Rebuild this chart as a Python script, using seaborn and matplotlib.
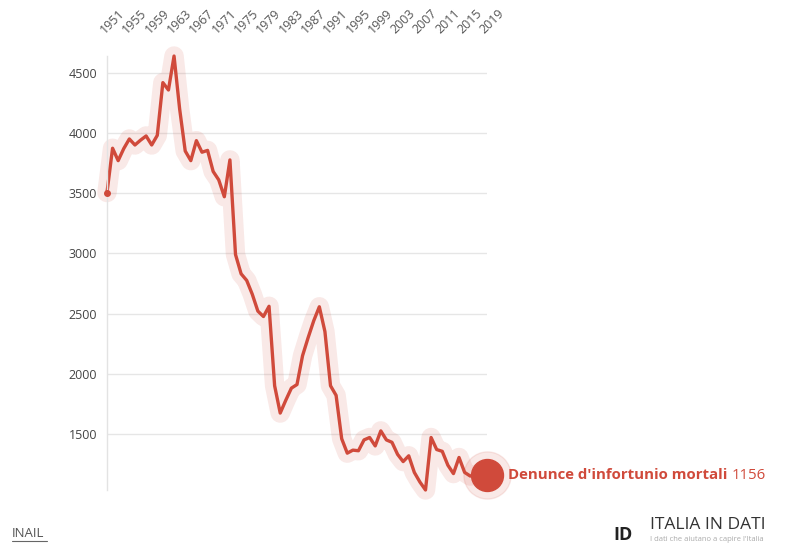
import numpy as np
import pandas as pd
import matplotlib.pyplot as plt
import matplotlib.lines as mlines
import seaborn as sns

# anni e denunce d'infortunio mortali
anni = list(range(1951, 2020))
denunce = [3505, 3873, 3770, 3870, 3950, 3900, 3940, 3975, 3900, 3980,
           4418, 4357, 4639, 4200, 3850, 3770, 3936, 3840, 3855, 3680,
           3610, 3470, 3776, 2990, 2830, 2775, 2660, 2520, 2475, 2560,
           1900, 1673, 1780, 1880, 1910, 2150, 2300, 2440, 2556, 2350,
           1900, 1820, 1460, 1340, 1365, 1360, 1450, 1470, 1400, 1525,
           1450, 1430, 1330, 1270, 1318, 1180, 1100, 1034, 1470, 1370,
           1355, 1240, 1170, 1304, 1180, 1150, 1160, 1180, 1156]
tick_anni = list(range(1951, 2020, 4))
tick_y = [1500, 2000, 2500, 3000, 3500, 4000, 4500]

data = pd.DataFrame({"Anno": anni, "Denunce": denunce})

sns.set_style("white")
plt.rcParams['font.family'] = ['Open Sans', 'DejaVu Sans']

rosso = "#d04a3b"

fig = plt.figure(figsize=(8.02, 5.44), dpi=100)
ax = fig.add_axes([0.1334, 0.0993, 0.4738, 0.7977])

# alone chiaro dietro la linea
sns.lineplot(x="Anno", y="Denunce", data=data, ax=ax, color=rosso, alpha=0.12,
             linewidth=14, solid_capstyle="round", solid_joinstyle="round")
sns.lineplot(x="Anno", y="Denunce", data=data, ax=ax, color=rosso,
             linewidth=2.4, solid_joinstyle="round")
for l in ax.lines:
    l.set_clip_on(False)

# punto iniziale e punto finale
ax.plot(anni[0], denunce[0], "o", color=rosso, markersize=4, zorder=5, clip_on=False)
ax.plot(anni[-1], denunce[-1], "o", color=rosso, markersize=34, alpha=0.12,
        zorder=4, clip_on=False)
ax.plot(anni[-1], denunce[-1], "o", color=rosso, markersize=23, zorder=5,
        clip_on=False)

ax.set_xlim(anni[0], anni[-1])
ax.set_ylim(min(denunce), max(denunce))

ax.xaxis.tick_top()
ax.set_xticks(tick_anni)
ax.set_xticklabels([str(a) for a in tick_anni], rotation=45, ha="left",
                   va="bottom", rotation_mode="anchor", fontsize=9, color="#555")
ax.tick_params(axis="x", length=0, pad=14)
ax.set_yticks(tick_y)
ax.set_yticklabels([str(v) for v in tick_y], fontsize=9, color="#444")
ax.tick_params(axis="y", length=0, pad=7)
ax.set_xlabel("")
ax.set_ylabel("")

ax.grid(axis="y", color="#e6e6e6", linewidth=1)
ax.grid(axis="x", visible=False)
for s in ["top", "right", "bottom"]:
    ax.spines[s].set_visible(False)
ax.spines["left"].set_color("#e3e3e3")
ax.spines["left"].set_linewidth(1)

# etichetta finale
t = ax.annotate("Denunce d'infortunio mortali", xy=(anni[-1], denunce[-1]),
                xytext=(15, 0), textcoords="offset points", fontsize=10.8,
                fontweight="bold", color=rosso, va="center", ha="left",
                annotation_clip=False)
fig.canvas.draw()
bb = t.get_window_extent()
fig.text((bb.x1 + 4) / fig.bbox.width, (bb.y0 + bb.y1) / 2 / fig.bbox.height,
         str(denunce[-1]), fontsize=10.8, color=rosso, va="center", ha="left")

# fonte
fig.text(0.015, 0.007, "INAIL", fontsize=9.5, color="#555", ha="left", va="bottom")
fig.add_artist(mlines.Line2D([0.015, 0.058], [0.006, 0.006], color="#666",
                             linewidth=0.8))

# logo
fig.text(0.765, 0.0, "ID", fontsize=13, fontweight="bold", color="#222",
         ha="left", va="bottom")
fig.text(0.811, 0.02, "ITALIA IN DATI", fontsize=12.5, color="#333",
         ha="left", va="bottom")
fig.text(0.811, 0.001, "I dati che aiutano a capire l'Italia", fontsize=5.5,
         color="#aaa", ha="left", va="bottom")

plt.savefig("out.png", dpi=100)
